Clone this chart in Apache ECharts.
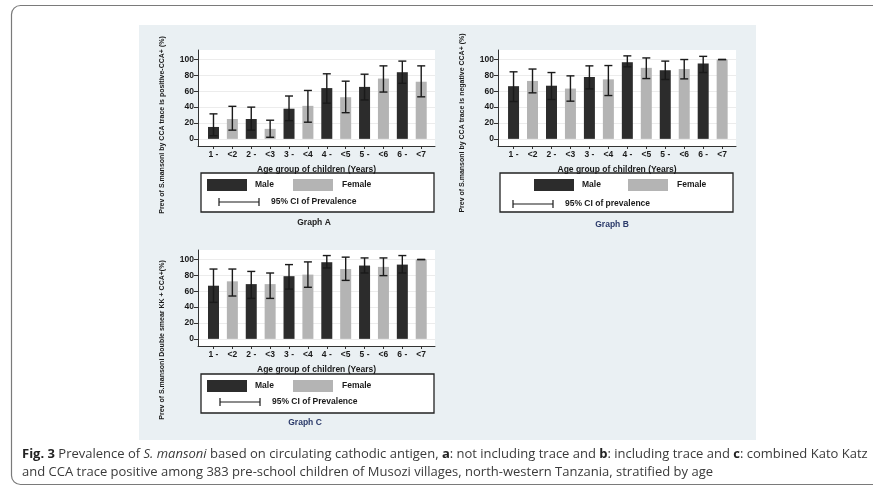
<!DOCTYPE html>
<html>
<head>
<meta charset="utf-8">
<script src="https://cdn.jsdelivr.net/npm/echarts@6/dist/echarts.min.js"></script>
<style>
  html, body { margin: 0; padding: 0; background: #ffffff; }
  #chart { width: 873px; height: 487px; }
</style>
</head>
<body>
<div id="chart"></div>
<script>
// Age group tick labels (male groups "n -" alternate with female groups "<n")
const ageLabels = ['1 -', '<2', '2 -', '<3', '3 -', '<4', '4 -', '<5', '5 -', '<6', '6 -', '<7'];
const yTicks = [0, 20, 40, 60, 80, 100];

// Graph A: CCA trace counted as negative (not including trace), %
const aMale      = [15, 25, 38, 64, 65.5, 84];
const aMaleLow   = [4, 11, 23, 45, 49, 70];
const aMaleHigh  = [31.5, 40, 54, 82, 81.5, 98];
const aFemale    = [25, 12.6, 41.6, 52.5, 76, 72];
const aFemLow    = [11, 2, 21, 33, 59, 53];
const aFemHigh   = [41, 23.5, 61, 72.7, 92, 92];

// Graph B: CCA trace counted as positive (including trace), %
const bMale      = [66.4, 67, 78, 96.6, 86.5, 95];
const bMaleLow   = [47, 49.6, 63, 90.8, 74.8, 83.6];
const bMaleHigh  = [84.5, 83.6, 92, 104.6, 98, 104];
const bFemale    = [73, 63.4, 75, 89.5, 88, 100];
const bFemLow    = [58, 47.5, 54.6, 76, 75.6, 100];
const bFemHigh   = [88, 79.4, 92.4, 102, 100, 100];

// Graph C: Kato Katz double smear combined with CCA trace positive, %
const cMale      = [67, 69, 79, 96.6, 92.4, 93.6];
const cMaleLow   = [46, 51, 62.7, 89.4, 83, 83];
const cMaleHigh  = [88, 85, 93.6, 105, 102, 105];
const cFemale    = [72.5, 69, 81, 88, 90.7, 100];
const cFemLow    = [54, 51, 65, 73.7, 79.7, 100];
const cFemHigh   = [88, 83, 97, 103, 102, 100];

const yTitles = [
  'Prev of S.mansoni by CCA trace is positive-CCA+ (%)',
  'Prev of S.mansoni by CCA trace is negative CCA+ (%)',
  'Prev of S.mansoni Double smear KK + CCA+(%)'
];

const MALE_COLOR = '#2c2c2c';
const FEMALE_COLOR = '#b4b4b4';
const INK = '#1a1a1a';
const AXIS_FONT = '"Liberation Sans", Arial, sans-serif';
const CAPTION_FONT = '"Open Sans", sans-serif';

const chart = echarts.init(document.getElementById('chart'), null, { renderer: 'canvas' });

const gridBoxes = [
  { left: 198, top: 50, width: 237, height: 96 },
  { left: 498, top: 50, width: 238, height: 96 },
  { left: 198, top: 250, width: 237, height: 96 }
];

const grids = gridBoxes.map(g => Object.assign({
  show: true, backgroundColor: '#ffffff', borderWidth: 0, containLabel: false
}, g));

const idx = ageLabels.map((_, i) => i);

const xAxes = gridBoxes.map((_, gi) => ({
  type: 'value', gridIndex: gi, min: -0.82, max: 11.73,
  name: 'Age group of children (Years)', nameLocation: 'middle', nameGap: 19,
  nameTextStyle: { fontFamily: AXIS_FONT, fontSize: 8.5, fontWeight: 'bold', color: INK },
  axisLine: { show: true, onZero: false, lineStyle: { color: '#333', width: 1 } },
  axisTick: { show: true, length: 3, customValues: idx, lineStyle: { color: '#333' } },
  axisLabel: {
    customValues: idx, margin: 4, fontFamily: AXIS_FONT, fontSize: 8.5, fontWeight: 'bold', color: INK,
    formatter: v => ageLabels[Math.round(v)]
  },
  splitLine: { show: false }
}));

const yAxes = gridBoxes.map((_, gi) => ({
  type: 'value', gridIndex: gi, min: -9, max: 112,
  axisLine: { show: true, onZero: false, lineStyle: { color: '#333', width: 1 } },
  axisTick: { show: true, length: 4, customValues: yTicks, lineStyle: { color: '#333' } },
  axisLabel: { customValues: yTicks, margin: 4, fontFamily: AXIS_FONT, fontSize: 8.5, fontWeight: 'bold', color: INK },
  splitLine: { show: true, lineStyle: { color: '#ececec', width: 1 } }
}));

function errorSeries(gi, rows) {
  return {
    type: 'custom', name: '95% CI', xAxisIndex: gi, yAxisIndex: gi, z: 5,
    encode: { x: 0, y: [1, 2] },
    data: rows,
    renderItem(params, api) {
      const x = api.value(0);
      const pLo = api.coord([x, api.value(1)]);
      const pHi = api.coord([x, api.value(2)]);
      const cap = 4;
      const style = { stroke: INK, lineWidth: 1.4 };
      return {
        type: 'group', children: [
          { type: 'line', shape: { x1: pLo[0], y1: pLo[1], x2: pHi[0], y2: pHi[1] }, style },
          { type: 'line', shape: { x1: pLo[0] - cap, y1: pLo[1], x2: pLo[0] + cap, y2: pLo[1] }, style },
          { type: 'line', shape: { x1: pHi[0] - cap, y1: pHi[1], x2: pHi[0] + cap, y2: pHi[1] }, style }
        ]
      };
    }
  };
}

function panelSeries(gi, male, mLo, mHi, female, fLo, fHi) {
  const maleData = male.map((v, i) => [2 * i, v]);
  const femData = female.map((v, i) => [2 * i + 1, v]);
  const ci = male.map((v, i) => [2 * i, mLo[i], mHi[i]])
    .concat(female.map((v, i) => [2 * i + 1, fLo[i], fHi[i]]));
  return [
    { type: 'bar', name: 'Male', xAxisIndex: gi, yAxisIndex: gi, data: maleData,
      barWidth: 11, barGap: '-100%', itemStyle: { color: MALE_COLOR } },
    { type: 'bar', name: 'Female', xAxisIndex: gi, yAxisIndex: gi, data: femData,
      barWidth: 11, barGap: '-100%', itemStyle: { color: FEMALE_COLOR } },
    errorSeries(gi, ci)
  ];
}

const series = [].concat(
  panelSeries(0, aMale, aMaleLow, aMaleHigh, aFemale, aFemLow, aFemHigh),
  panelSeries(1, bMale, bMaleLow, bMaleHigh, bFemale, bFemLow, bFemHigh),
  panelSeries(2, cMale, cMaleLow, cMaleHigh, cFemale, cFemLow, cFemHigh)
);

const legendText = { fontFamily: AXIS_FONT, fontSize: 8.5, fontWeight: 'bold', fill: INK, verticalAlign: 'middle' };

// Legend box below each panel
function legendBox(o) {
  return [
    { type: 'rect', shape: { x: o.x, y: o.y, width: 233, height: 39 },
      style: { fill: '#ffffff', stroke: '#222', lineWidth: 1.3 } },
    { type: 'rect', shape: { x: o.maleX, y: o.y + 6, width: 40, height: 12 }, style: { fill: MALE_COLOR } },
    { type: 'text', x: o.maleX + 48, y: o.y + 12, style: Object.assign({ text: 'Male' }, legendText) },
    { type: 'rect', shape: { x: o.femX, y: o.y + 6, width: 40, height: 12 }, style: { fill: FEMALE_COLOR } },
    { type: 'text', x: o.femX + 49, y: o.y + 12, style: Object.assign({ text: 'Female' }, legendText) },
    { type: 'line', shape: { x1: o.ciX, y1: o.ciY, x2: o.ciX + 40, y2: o.ciY }, style: { stroke: INK, lineWidth: 1.2 } },
    { type: 'line', shape: { x1: o.ciX, y1: o.ciY - 4, x2: o.ciX, y2: o.ciY + 4 }, style: { stroke: INK, lineWidth: 1.2 } },
    { type: 'line', shape: { x1: o.ciX + 40, y1: o.ciY - 4, x2: o.ciX + 40, y2: o.ciY + 4 }, style: { stroke: INK, lineWidth: 1.2 } },
    { type: 'text', x: o.ciX + 52, y: o.ciY, style: Object.assign({ text: o.ciText }, legendText) },
    { type: 'text', x: o.titleX, y: o.titleY, style: { text: o.title, fontFamily: AXIS_FONT, fontSize: 8.5, fontWeight: 'bold', fill: o.titleColor, align: 'center', verticalAlign: 'middle' } }
  ];
}

function yTitle(text, x, y) {
  return { type: 'text', x: x, y: y, rotation: Math.PI / 2,
    style: { text: text, fontFamily: AXIS_FONT, fontSize: 7, fontWeight: 'bold', fill: INK, align: 'center', verticalAlign: 'middle' } };
}

const graphic = [
  { type: 'rect', z: -10, shape: { x: 11.5, y: 5.5, width: 900, height: 479, r: 9 },
    style: { fill: '#ffffff', stroke: '#7a7a7a', lineWidth: 1.2 } },
  { type: 'rect', z: -9, shape: { x: 139, y: 25, width: 617, height: 415 },
    style: { fill: '#eaf0f3' } },
  yTitle(yTitles[0], 162, 125),
  yTitle(yTitles[1], 462, 123),
  yTitle(yTitles[2], 162, 340),
  ...legendBox({ x: 201, y: 173, maleX: 207, femX: 293, ciX: 219, ciY: 202, ciText: '95% CI of Prevalence', title: 'Graph A', titleX: 314, titleY: 223, titleColor: '#222' }),
  ...legendBox({ x: 500, y: 173, maleX: 534, femX: 628, ciX: 513, ciY: 204, ciText: '95% CI of prevalence', title: 'Graph B', titleX: 612, titleY: 225, titleColor: '#2b3a6a' }),
  ...legendBox({ x: 201, y: 374, maleX: 207, femX: 293, ciX: 220, ciY: 402, ciText: '95% CI of Prevalence', title: 'Graph C', titleX: 305, titleY: 423, titleColor: '#2b3a6a' }),
  { type: 'text', x: 22, y: 454,
    style: {
      text: '{b|Fig. 3} Prevalence of {i|S. mansoni} based on circulating cathodic antigen, {b|a}: not including trace and {b|b}: including trace and {b|c}: combined Kato Katz',
      fontFamily: CAPTION_FONT, fontSize: 13, fill: '#3a3a3a', verticalAlign: 'middle',
      rich: { b: { fontWeight: 'bold', fontFamily: CAPTION_FONT, fontSize: 13, fill: '#222' },
              i: { fontStyle: 'italic', fontFamily: CAPTION_FONT, fontSize: 13, fill: '#3a3a3a' } }
    } },
  { type: 'text', x: 22, y: 472,
    style: { text: 'and CCA trace positive among 383 pre-school children of Musozi villages, north-western Tanzania, stratified by age',
      fontFamily: CAPTION_FONT, fontSize: 13, fill: '#3a3a3a', verticalAlign: 'middle' } }
];

chart.setOption({
  backgroundColor: '#ffffff',
  animation: false,
  grid: grids,
  xAxis: xAxes,
  yAxis: yAxes,
  series: series,
  graphic: graphic
});
</script>
</body>
</html>
